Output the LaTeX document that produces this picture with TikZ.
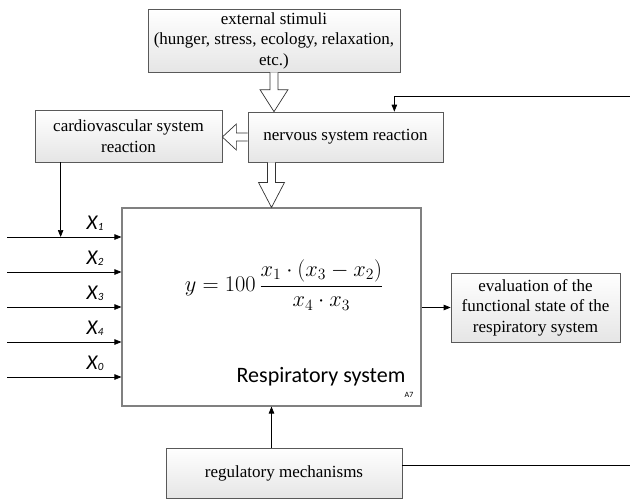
\RequirePackage{fix-cm}
\documentclass[tikz,border=0pt]{standalone}
\usepackage{fontspec}
\setmainfont{Liberation Serif}
\newfontfamily\calibri{Carlito}
\usetikzlibrary{arrows.meta,calc,shadows}

% input label: italic X with a small lowered index
\newcommand\xin[1]{X\kern0.3pt\raisebox{-1.2pt}{\fontsize{11}{11}\selectfont #1}}

\begin{document}
\begin{tikzpicture}[x=1pt,y=-1pt,
  blk/.style={draw=black!65, line width=0.7pt, top color=white, bottom color=black!10,
    drop shadow={shadow xshift=1.2pt, shadow yshift=-1.2pt, fill=black!35, opacity=0.5},
    align=center, inner sep=0pt, font=\fontsize{17}{20.5}\selectfont},
  mainblk/.style={draw=black!50, line width=1.1pt, fill=white,
    drop shadow={shadow xshift=1.2pt, shadow yshift=-1.2pt, fill=black!30, opacity=0.45},
    inner sep=0pt},
  link/.style={line width=0.7pt, -{Triangle[length=7pt,width=5.5pt]}},
  plainline/.style={line width=0.7pt},
  hollow/.style={draw=black!80, line width=0.7pt, fill=white, line join=miter},
  xlab/.style={font=\calibri\itshape\fontsize{21}{21}\selectfont, inner sep=0pt}
]
\useasboundingbox (0,0) rectangle (630,499);

% blocks
\node[blk, minimum width=252pt, minimum height=63pt] (ext) at (274,40.5)
  {external stimuli\\(hunger, stress, ecology, relaxation,\\etc.)};
\node[blk, minimum width=195pt, minimum height=50pt] (nerv) at (345.5,137)
  {nervous system reaction};
\node[blk, minimum width=187pt, minimum height=52pt] (cardio) at (128.5,136)
  {cardiovascular system\\reaction};
\node[mainblk, minimum width=299pt, minimum height=198pt] (resp) at (271.5,307) {};
\node[blk, minimum width=169pt, minimum height=69pt] (eval) at (535.5,307.5)
  {evaluation of the\\functional state of the\\respiratory system};
\node[blk, minimum width=236pt, minimum height=50pt] (reg) at (284,473)
  {regulatory mechanisms};

% contents of the respiratory block
\node[inner sep=0pt, font=\fontsize{22.4}{22.4}\selectfont] (eq) at (284,285)
  {$\displaystyle y = 100\,\frac{x_1\cdot(x_3-x_2)}{x_4\cdot x_3}$};
\node[inner sep=0pt, font=\calibri\fontsize{22}{22}\selectfont] (rname) at (321,377)
  {Respiratory system};
\node[inner sep=0pt, font=\calibri\fontsize{8}{8}\selectfont] (code) at (409,395) {A7};

% hollow arrows
\coordinate (a1s) at (ext.south);
\coordinate (a1e) at (ext.south |- nerv.north);
\draw[hollow] ($(a1s)+(-4,0)$) -- ($(a1e)+(-4,-22)$) -- ($(a1e)+(-14,-22)$) -- (a1e)
  -- ($(a1e)+(14,-22)$) -- ($(a1e)+(4,-22)$) -- ($(a1s)+(4,0)$);
\coordinate (a2s) at (nerv.west);
\coordinate (a2e) at (cardio.east |- nerv.west);
\draw[hollow] ($(a2s)+(0,-4)$) -- ($(a2e)+(14,-4)$) -- ($(a2e)+(14,-13)$) -- (a2e)
  -- ($(a2e)+(14,13)$) -- ($(a2e)+(14,4)$) -- ($(a2s)+(0,4)$);
\coordinate (a3s) at (resp.north |- nerv.south);
\coordinate (a3e) at (resp.north);
\draw[hollow] ($(a3s)+(-4,0)$) -- ($(a3e)+(-4,-25)$) -- ($(a3e)+(-13,-25)$) -- (a3e)
  -- ($(a3e)+(13,-25)$) -- ($(a3e)+(4,-25)$) -- ($(a3s)+(4,0)$);

% inputs
\foreach \i/\y/\lab in {1/237/1, 2/272/2, 3/307/3, 4/342/4, 5/377/0}{
  \coordinate (in\i) at (7,\y);
  \draw[link] (in\i) -- (in\i -| resp.west);
  \node[xlab] (xl\i) at (95,\y-14) {\xin{\lab}};
}

% cardiovascular reaction feeds the first input
\coordinate (cv) at ($(cardio.south west)+(26,0)$);
\draw[link] (cv) -- (cv |- in1);

% output
\draw[link] (resp.east |- eval.west) -- (eval.west);

% regulatory mechanisms
\draw[link] (resp.south |- reg.north) -- (resp.south);
\coordinate (regR) at (630,465);
\draw[plainline] (reg.east |- regR) -- (regR);

% feedback into the nervous system
\coordinate (fbR) at (630,96);
\coordinate (fbN) at ($(nerv.north east)+(-49,0)$);
\draw[link] (fbR) -| (fbN);
\end{tikzpicture}
\end{document}
